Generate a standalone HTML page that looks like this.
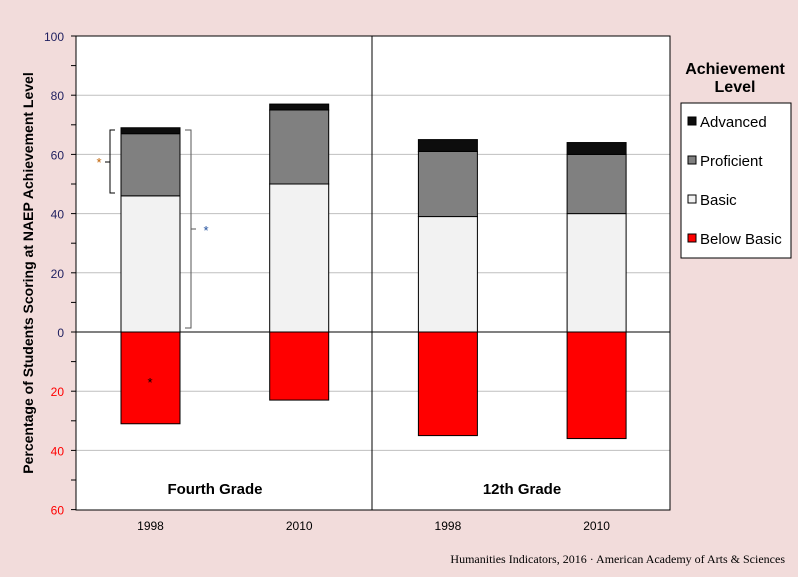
<!DOCTYPE html>
<html><head><meta charset="utf-8"><style>
body{margin:0;background:#f2dcdb;}
svg{display:block;font-family:"Liberation Sans",Arial,sans-serif;}
</style></head><body>
<svg width="798" height="577" id="c">
<rect x="0" y="0" width="798" height="577" fill="#f2dcdb"/>
<rect x="76" y="36" width="594" height="474" fill="#fff"/>
<g id="grid"></g>
<g id="bars"></g>
<line x1="372" y1="36" x2="372" y2="510" stroke="#000"/>
<rect x="76" y="36" width="594" height="474" fill="none" stroke="#000"/>
<text x="0" y="0" transform="translate(33,273) rotate(-90)" text-anchor="middle" font-size="14" font-weight="bold">Percentage of Students Scoring at NAEP Achievement Level</text>
<text x="215" y="494" text-anchor="middle" font-size="15" font-weight="bold">Fourth Grade</text>
<text x="522" y="494" text-anchor="middle" font-size="15" font-weight="bold">12th Grade</text>
<text x="735" y="74" text-anchor="middle" font-size="16" font-weight="bold">Achievement</text>
<text x="735" y="92" text-anchor="middle" font-size="16" font-weight="bold">Level</text>
<g>
<rect x="681" y="103" width="110" height="155" fill="#fff" stroke="#000"/>
<rect x="688" y="117" width="8" height="8" fill="#0d0d0d" stroke="#000"/><text x="700" y="127" font-size="15">Advanced</text>
<rect x="688" y="156" width="8" height="8" fill="#808080" stroke="#000"/><text x="700" y="166" font-size="15">Proficient</text>
<rect x="688" y="195" width="8" height="8" fill="#f2f2f2" stroke="#000"/><text x="700" y="205" font-size="15">Basic</text>
<rect x="688" y="234" width="8" height="8" fill="#ff0000" stroke="#000"/><text x="700" y="244" font-size="15">Below Basic</text>
</g>
<g fill="none" stroke="#000">
<path d="M115,130 H110 V193 H115"/>
<path d="M105,162 H110" />
<path d="M185,130 H191 V328 H185" stroke="#555"/>
<path d="M191,229 H196" stroke="#555"/>
</g>
<text x="99" y="167" font-size="13" fill="#c06000" text-anchor="middle">*</text>
<text x="206" y="235" font-size="13" fill="#1f4e9c" text-anchor="middle">*</text>
<text x="150" y="387" font-size="13" text-anchor="middle">*</text>
<text x="785" y="563" text-anchor="end" font-size="12" font-family="Liberation Serif,serif">Humanities Indicators, 2016 · American Academy of Arts &amp; Sciences</text>
</svg>
<script>
const years=["1998","2010","1998","2010"];
const basic=[46,50,39,40];
const proficient=[21,25,22,20];
const advanced=[2,2,4,4];
const belowBasic=[31,23,35,36];
const ticks=[100,80,60,40,20,0,20,40,60];
const NS="http://www.w3.org/2000/svg";
const y0=332,k=2.96;
const y=v=>y0-v*k;
const bx=i=>121+i*148.7;
const bw=59;
function el(t,a,p){const e=document.createElementNS(NS,t);for(const n in a)e.setAttribute(n,a[n]);p.appendChild(e);return e;}
const grid=document.getElementById('grid'),bars=document.getElementById('bars');
for(let v=100;v>=-60;v-=20){
  if(v!==0&&v!==-60&&v!==100){const g=el('line',{x1:76,x2:670,y1:y(v),y2:y(v),stroke:'#bfbfbf'},grid);
  
  }
}
for(let v=100;v>=-60;v-=10){el('line',{x1:71,x2:76,y1:y(v),y2:y(v),stroke:'#000'},grid);}
ticks.forEach((t,i)=>{const v=100-i*20;const tx=el('text',{x:64,y:y(v)+5,'text-anchor':'end','font-size':12,fill:v<0?'#ff0000':'#1f1f5f'},grid);tx.textContent=t;

});
years.forEach((yr,i)=>{
  const x=bx(i);
  const segs=[[0,basic[i],'#f2f2f2','basic'],[basic[i],basic[i]+proficient[i],'#808080','proficient'],[basic[i]+proficient[i],basic[i]+proficient[i]+advanced[i],'#0d0d0d','advanced'],[-belowBasic[i],0,'#ff0000','below-basic']];
  segs.forEach(s=>{const r=el('rect',{x:x,y:y(s[1]),width:bw,height:(s[1]-s[0])*k,fill:s[2],stroke:'#000','stroke-width':1},bars);
  
  });
  const t=el('text',{x:x+bw/2,y:530,'text-anchor':'middle','font-size':12},bars);t.textContent=yr;
  
  
});
el('line',{x1:76,x2:670,y1:y0,y2:y0,stroke:'#000'},bars);
</script>
</body></html>
